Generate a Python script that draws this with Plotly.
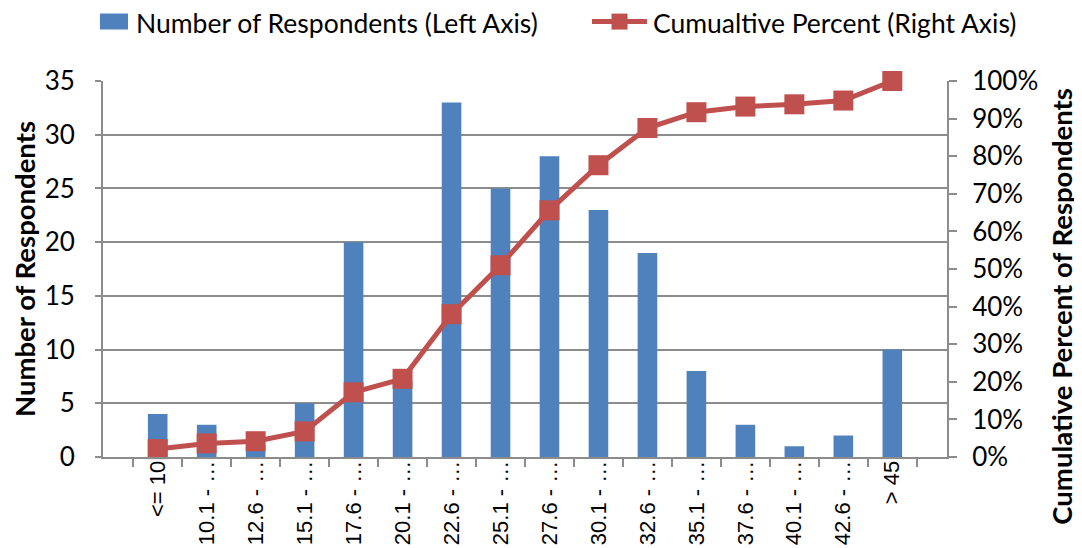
import plotly.graph_objects as go

categories = ["<= 10", "10.1 - …", "12.6 - …", "15.1 - …", "17.6 - …", "20.1 - …",
              "22.6 - …", "25.1 - …", "27.6 - …", "30.1 - …", "32.6 - …", "35.1 - …",
              "37.6 - …", "40.1 - …", "42.6 - …", "> 45"]
respondents = [4, 3, 1, 5, 20, 7, 33, 25, 28, 23, 19, 8, 3, 1, 2, 10]
cumulative_pct = [0.021, 0.036, 0.042, 0.068, 0.172, 0.208, 0.380, 0.510,
                  0.656, 0.776, 0.875, 0.917, 0.932, 0.938, 0.948, 1.000]
left_ticks = [0, 5, 10, 15, 20, 25, 30, 35]
right_ticks = [0, 0.1, 0.2, 0.3, 0.4, 0.5, 0.6, 0.7, 0.8, 0.9, 1.0]
bar_name = "Number of Respondents (Left Axis)"
line_name = "Cumualtive Percent (Right Axis)"
left_title = "Number of Respondents"
right_title = "Cumulative Percent of Respondents"

NUM_FONT = "Lato, Carlito, Calibri, sans-serif"
CAT_FONT = "Liberation Sans, Arial, sans-serif"
GRID = "#8c8c8c"
BLUE = "#4F81BD"
RED = "#C0504D"

fig = go.Figure()
fig.add_trace(go.Bar(
    x=categories, y=respondents, name=bar_name, showlegend=False,
    marker=dict(color=BLUE, line=dict(width=0)), width=0.4, yaxis="y"))
fig.add_trace(go.Scatter(
    x=categories, y=cumulative_pct, name=line_name, showlegend=False,
    mode="lines+markers", yaxis="y2", cliponaxis=False,
    line=dict(color=RED, width=5),
    marker=dict(symbol="square", size=20, color=RED)))

# legend drawn in paper coordinates (plot area: 844 x 376 px)
sym_y = 1.158
txt_y = 1.154
shapes = [
    dict(type="rect", xref="paper", yref="paper", x0=-0.0036, x1=0.0296,
         y0=1.137, y1=1.1795, fillcolor=BLUE, line=dict(width=0)),
    dict(type="line", xref="paper", yref="paper", x0=0.5794, x1=0.6445,
         y0=sym_y, y1=sym_y, line=dict(color=RED, width=5)),
    dict(type="rect", xref="paper", yref="paper", xsizemode="pixel", ysizemode="pixel",
         xanchor=0.612, yanchor=sym_y, x0=-8, x1=8, y0=-8, y1=8,
         fillcolor=RED, line=dict(width=0)),
]
annotations = [
    dict(text=bar_name, xref="paper", yref="paper", x=0.0379, y=txt_y,
         xanchor="left", yanchor="middle", showarrow=False, borderpad=0,
         font=dict(family=NUM_FONT, size=26.5, color="black")),
    dict(text=line_name, xref="paper", yref="paper", x=0.6505, y=txt_y,
         xanchor="left", yanchor="middle", showarrow=False, borderpad=0,
         font=dict(family=NUM_FONT, size=26.5, color="black")),
    dict(text="<b>" + right_title + "</b>", xref="paper", yref="paper",
         x=1.1363, y=0.40, textangle=-90, xanchor="center", yanchor="middle",
         showarrow=False, borderpad=0,
         font=dict(family=NUM_FONT, size=27.5, color="black")),
]

fig.update_layout(
    width=1074, height=540,
    margin=dict(l=95, r=135, t=73, b=91, autoexpand=False),
    plot_bgcolor="white", paper_bgcolor="white",
    showlegend=False,
    shapes=shapes, annotations=annotations,
    xaxis=dict(
        type="category", tickangle=-90, automargin=False,
        tickfont=dict(family=CAT_FONT, size=22, color="black"),
        showline=True, linecolor=GRID, linewidth=2,
        ticks="outside", ticklen=8, tickcolor=GRID, tickwidth=2,
        ticklabelstandoff=-7,
        tickson="boundaries", showgrid=False),
    yaxis=dict(
        range=[0, 35], tickvals=left_ticks, automargin=False,
        tickfont=dict(family=NUM_FONT, size=26, color="black"),
        ticklabelstandoff=15,
        title=dict(text="<b>" + left_title + "</b>",
                   font=dict(family=NUM_FONT, size=27.5, color="black"), standoff=8),
        showline=True, linecolor=GRID, linewidth=2,
        ticks="outside", ticklen=6, tickcolor=GRID, tickwidth=2,
        showgrid=True, gridcolor=GRID, gridwidth=2, zeroline=False),
    yaxis2=dict(
        overlaying="y", side="right", range=[0, 1], tickvals=right_ticks,
        tickformat=".0%", automargin=False,
        tickfont=dict(family=NUM_FONT, size=26, color="black"),
        ticklabelstandoff=10,
        showline=True, linecolor=GRID, linewidth=2,
        ticks="outside", ticklen=8, tickcolor=GRID, tickwidth=2,
        showgrid=False, zeroline=False),
)

fig.write_html("out.html")
